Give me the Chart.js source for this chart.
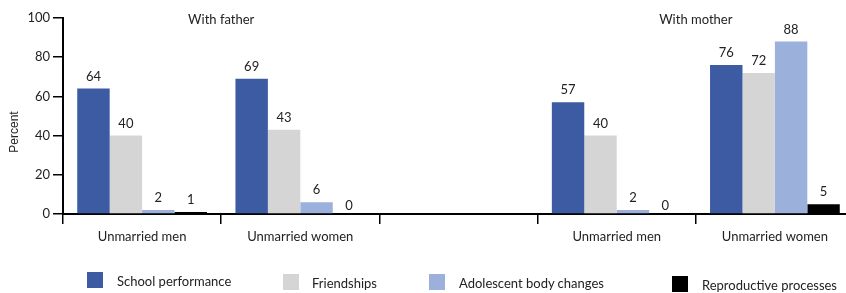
<!DOCTYPE html>
<html>
<head>
<meta charset="utf-8">
<script src="https://cdn.jsdelivr.net/npm/chart.js@4"></script>
<style>
  html, body { margin: 0; padding: 0; background: #fff; overflow: hidden; }
  #wrap { position: relative; width: 846px; height: 293px; overflow: hidden; }
  #chart { position: absolute; left: 0; top: 0; }
  .leg { position: absolute; font-family: Lato, sans-serif; font-size: 13px; color: #222; white-space: nowrap; }
  .leg i { position: absolute; width: 16px; height: 16px; }
  .leg span { position: absolute; line-height: 16px; }
</style>
</head>
<body>
<div id="wrap">
  <canvas id="chart" width="856" height="293"></canvas>
  <div id="legend"></div>
</div>
<script>
// data
const categories = ['Unmarried men', 'Unmarried women', '', 'Unmarried men', 'Unmarried women'];
const schoolPerformance = [64, 69, null, 57, 76];
const friendships = [40, 43, null, 40, 72];
const bodyChanges = [2, 6, null, 2, 88];
const reproductive = [1, 0, null, 0, 5];
const groupTitles = ['With father', 'With mother'];
const yTicks = [0, 20, 40, 60, 80, 100];

// where each group title sits: between these two categories
const groupTitleSpots = [[0, 1], [3, 4]];
// legend layout (box left, box top, text left)
const legendSpots = [[87, 272, 117], [283, 274, 312], [429, 274, 459], [672, 276, 702]];

Chart.defaults.font.family = 'Lato, sans-serif';
Chart.defaults.font.size = 13;
Chart.defaults.color = '#222';

const data = {
  labels: categories,
  datasets: [
    { label: 'School performance', data: schoolPerformance, backgroundColor: '#3d5ba3' },
    { label: 'Friendships', data: friendships, backgroundColor: '#d5d5d5' },
    { label: 'Adolescent body changes', data: bodyChanges, backgroundColor: '#9bb0db' },
    { label: 'Reproductive processes', data: reproductive, backgroundColor: '#000000' },
  ]
};

// value labels above bars
const valueLabels = {
  id: 'valueLabels',
  afterDatasetsDraw(chart) {
    const ctx = chart.ctx;
    ctx.save();
    ctx.font = '13px Lato, sans-serif';
    ctx.fillStyle = '#222';
    ctx.textAlign = 'center';
    ctx.textBaseline = 'alphabetic';
    chart.data.datasets.forEach((ds, i) => {
      chart.getDatasetMeta(i).data.forEach((bar, j) => {
        const v = ds.data[j];
        if (v === null) return;
        ctx.fillText(String(v), bar.x, bar.y - (v === 0 ? 4 : 8));
      });
    });
    ctx.restore();
  }
};

// "With father" / "With mother" and the y title
const extraText = {
  id: 'extraText',
  afterDraw(chart) {
    const ctx = chart.ctx;
    const x = chart.scales.x;
    ctx.save();
    ctx.font = '13px Lato, sans-serif';
    ctx.fillStyle = '#222';
    ctx.textAlign = 'center';
    ctx.textBaseline = 'middle';
    groupTitles.forEach((t, k) => {
      const [a, b] = groupTitleSpots[k];
      ctx.fillText(t, (x.getPixelForValue(a) + x.getPixelForValue(b)) / 2, 20);
    });
    // Percent, rotated
    ctx.font = '12px "Liberation Sans", Arial, sans-serif';
    ctx.translate(15, 132);
    ctx.rotate(-Math.PI / 2);
    ctx.fillText('Percent', 0, 0);
    ctx.restore();
  }
};

const config = {
  type: 'bar',
  data,
  options: {
    responsive: false,
    animation: false,
    categoryPercentage: 0.82,
    barPercentage: 1.0,
    layout: { padding: { top: 18, right: 2, bottom: 49, left: 0 } },
    scales: {
      x: {
        grid: { drawOnChartArea: false, drawTicks: true, tickLength: 10, color: '#000', lineWidth: 1.5 },
        border: { color: '#000', width: 2 },
        ticks: { padding: 5, maxRotation: 0, autoSkip: false },
        afterFit(scale) { scale.height = 30; }
      },
      y: {
        min: 0,
        max: 100,
        afterBuildTicks(scale) { scale.ticks = yTicks.map(v => ({ value: v })); },
        grid: { drawOnChartArea: false, drawTicks: true, tickLength: 10, color: '#000', lineWidth: 1.5 },
        border: { color: '#000', width: 2 },
        ticks: { padding: 3 },
        afterFit(scale) { scale.width = 63; }
      }
    },
    plugins: {
      legend: { display: false },
      tooltip: { enabled: false }
    }
  },
  plugins: [valueLabels, extraText]
};

const myChart = new Chart(document.getElementById('chart'), config);

// legend
const leg = document.getElementById('legend');
data.datasets.forEach((ds, i) => {
  const [bx, by, tx] = legendSpots[i];
  const box = document.createElement('div');
  box.className = 'leg';
  box.style.left = '0px';
  box.style.top = '0px';
  box.innerHTML = '<i style="left:' + bx + 'px;top:' + by + 'px;background:' + ds.backgroundColor + '"></i>' +
    '<span style="left:' + tx + 'px;top:' + (by + 1) + 'px">' + ds.label + '</span>';
  leg.appendChild(box);
});
</script>
</body>
</html>
